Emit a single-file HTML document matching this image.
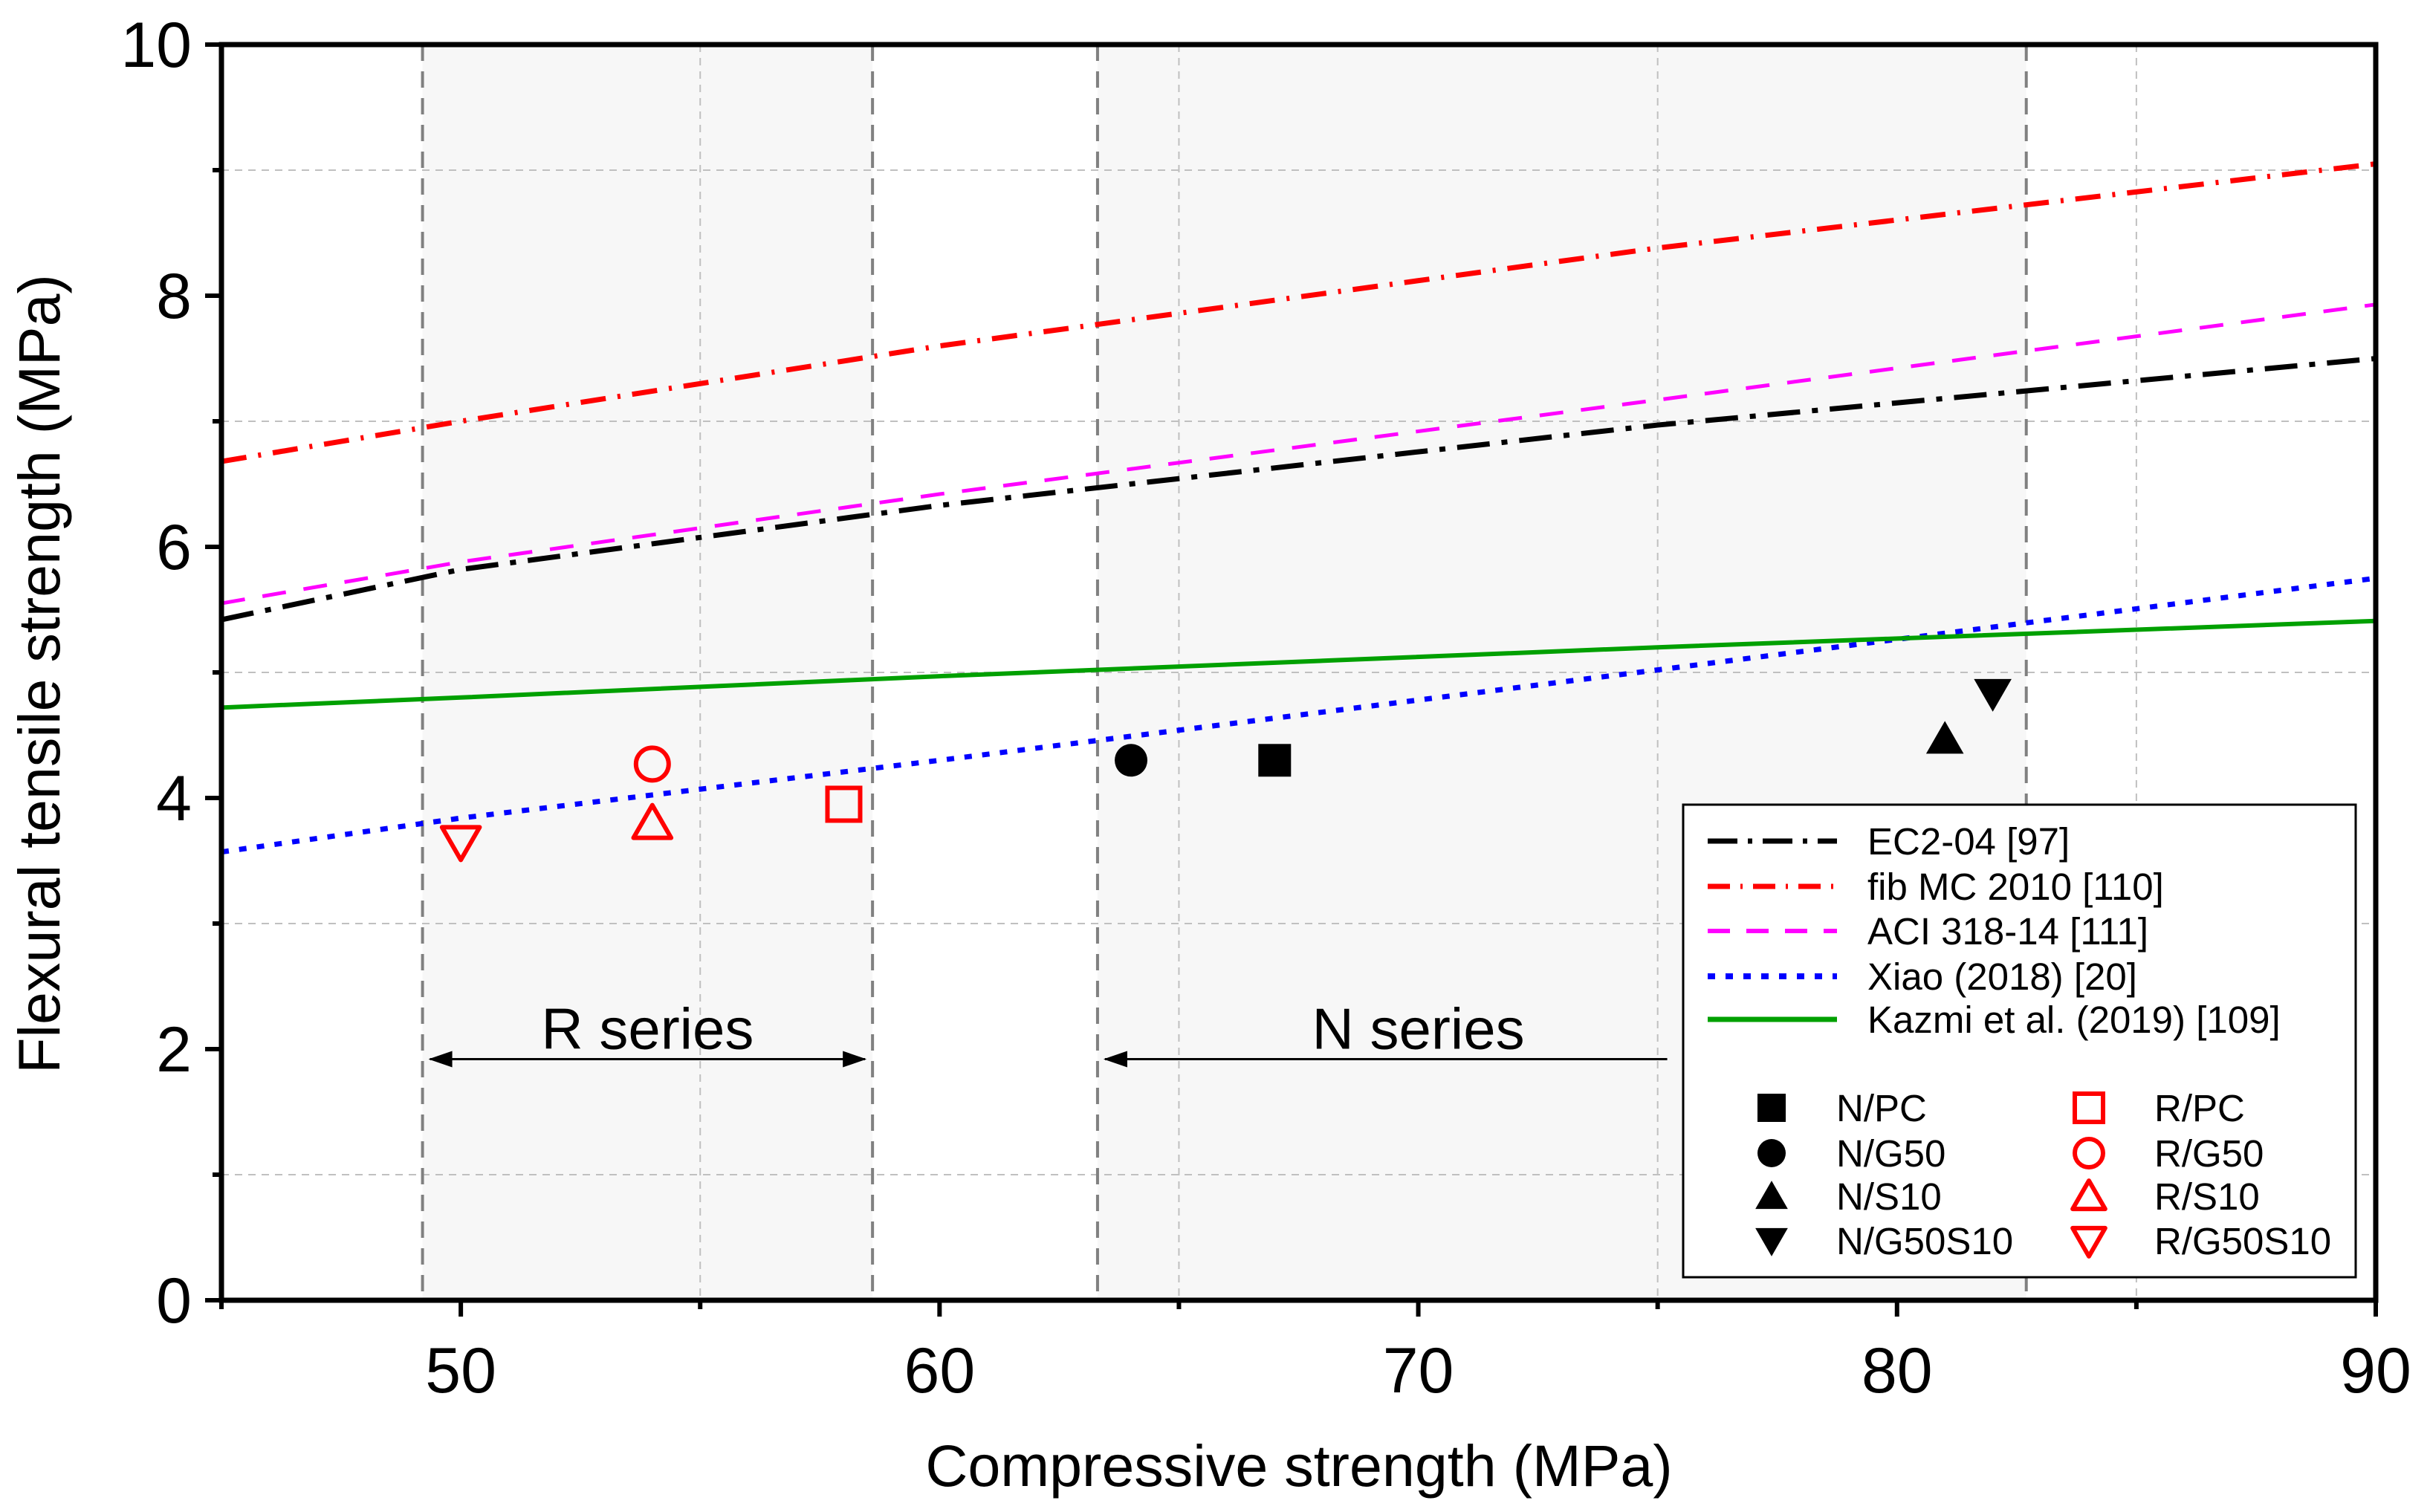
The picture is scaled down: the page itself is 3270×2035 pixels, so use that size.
<!DOCTYPE html>
<html><head><meta charset="utf-8"><style>
html,body{margin:0;padding:0;background:#fff}
svg{display:block;font-family:"Liberation Sans",Arial,sans-serif}
</style></head><body>
<svg id="chart" width="3270" height="2035" viewBox="0 0 3270 2035" xmlns="http://www.w3.org/2000/svg">
<g id="bg"></g><g id="grid"></g><g id="lines"></g><g id="pts"></g><g id="axes"></g><g id="legend"></g>
</svg>
<script>
const xTicks=[50,60,70,80,90];
const yTicks=[0,2,4,6,8,10];
const lineX=[45,50,60,75,90];
const ec2=[5.42,5.82,6.33,6.97,7.5];
const fib=[6.68,7.0,7.6,8.38,9.05];
const aci=[5.55,5.88,6.42,7.17,7.93];
const xiao=[3.57,3.84,4.3,5.02,5.75];
const kazmi=[4.72,4.8,4.97,5.2,5.41];
const ptNames=['N/PC','N/G50','N/S10','N/G50S10','R/PC','R/G50','R/S10','R/G50S10'];
const ptX=[67,64,81,82,58,54,54,50];
const ptY=[4.3,4.3,4.47,4.83,3.95,4.27,3.8,3.65];
const rRange=[49.2,58.6];
const nRange=[63.3,82.7];

const L=298,R=3197,T=60,B=1750;
const sx=v=>L+(v-45)/(90-45)*(R-L);
const sy=v=>B-(v-0)/(10-0)*(B-T);
const NS='http://www.w3.org/2000/svg';
function mk(tag,attrs,parent,text){const e=document.createElementNS(NS,tag);for(const k in attrs)e.setAttribute(k,attrs[k]);if(text!==undefined)e.textContent=text;parent.appendChild(e);return e;}
const bg=document.getElementById('bg'),grid=document.getElementById('grid'),lines=document.getElementById('lines'),pts=document.getElementById('pts'),axes=document.getElementById('axes'),leg=document.getElementById('legend');

[[rRange,'r-series-region'],[nRange,'n-series-region']].forEach(([rg,nm])=>{
 const r=mk('rect',{x:sx(rg[0]),y:T,width:sx(rg[1])-sx(rg[0]),height:B-T,fill:'#f7f7f7'},bg);
 
 
});
[55,65,75,85].forEach(v=>{const g=mk('line',{x1:sx(v),x2:sx(v),y1:T,y2:B,stroke:'#c0c0c0','stroke-width':2,'stroke-dasharray':'10 8'},grid);

});
[1,3,5,7,9].forEach(v=>{const g=mk('line',{x1:L,x2:R,y1:sy(v),y2:sy(v),stroke:'#c0c0c0','stroke-width':2,'stroke-dasharray':'10 8'},grid);

});
[rRange[0],rRange[1],nRange[0],nRange[1]].forEach(v=>{const g=mk('line',{x1:sx(v),x2:sx(v),y1:T,y2:B,stroke:'#808080','stroke-width':4,'stroke-dasharray':'22 14'},grid);

});

const series=[[ec2,'#000','44 16 8 16','ec2-line',7],[fib,'#ff0000','34 16 4 16','fib-line',7],[aci,'#ff00ff','32 24','aci-line',5],[xiao,'#0000ff','10 14','xiao-line',7],[kazmi,'#00a000','','kazmi-line',6]];
series.forEach(([ys,c,d,nm,w])=>{
 const p=lineX.map((x,i)=>sx(x)+','+sy(ys[i])).join(' ');
 const e=mk('polyline',{points:p,fill:'none',stroke:c,'stroke-width':w,'stroke-dasharray':d},lines);
 
 
});

function marker(kind,cx,cy,parent,s){
 const red=kind.startsWith('R');const fill=red?'none':'#000',stroke=red?'#ff0000':'#000';const sw=red?6:0;
 const t=kind.split('/')[1];const h=s/2;
 if(t==='PC') return mk('rect',{x:cx-h,y:cy-h,width:s,height:s,fill,stroke,'stroke-width':sw},parent);
 if(t==='G50') return mk('circle',{cx,cy,r:h,fill,stroke,'stroke-width':sw},parent);
 if(t==='S10') return mk('polygon',{points:`${cx},${cy-h*1.1} ${cx+h*1.15},${cy+h*0.9} ${cx-h*1.15},${cy+h*0.9}`,fill,stroke,'stroke-width':sw,'stroke-linejoin':'round'},parent);
 return mk('polygon',{points:`${cx},${cy+h*1.1} ${cx+h*1.15},${cy-h*0.9} ${cx-h*1.15},${cy-h*0.9}`,fill,stroke,'stroke-width':sw,'stroke-linejoin':'round'},parent);
}
ptNames.forEach((n,i)=>{const m=marker(n,sx(ptX[i]),sy(ptY[i]),pts,44);

});

function arrowHead(x,y,dir){return `${x},${y} ${x-dir*32},${y-11} ${x-dir*32},${y+11}`;}
const ay=sy(1.92);
let a=mk('line',{x1:sx(rRange[0])+10,x2:sx(rRange[1])-10,y1:ay,y2:ay,stroke:'#000','stroke-width':3},pts);


mk('polygon',{points:arrowHead(sx(rRange[0])+8,ay,-1),fill:'#000'},pts);
mk('polygon',{points:arrowHead(sx(rRange[1])-8,ay,1),fill:'#000'},pts);
a=mk('line',{x1:sx(nRange[0])+10,x2:sx(75.2),y1:ay,y2:ay,stroke:'#000','stroke-width':3},pts);


mk('polygon',{points:arrowHead(sx(nRange[0])+8,ay,-1),fill:'#000'},pts);
let t=mk('text',{x:(sx(rRange[0])+sx(rRange[1]))/2,y:ay-14,'font-size':78,'text-anchor':'middle'},pts,'R series');


t=mk('text',{x:sx(70),y:ay-14,'font-size':78,'text-anchor':'middle'},pts,'N series');



const fr=mk('rect',{x:L,y:T,width:R-L,height:B-T,fill:'none',stroke:'#000','stroke-width':7},axes);


xTicks.forEach(v=>{mk('line',{x1:sx(v),x2:sx(v),y1:B,y2:B+22,stroke:'#000','stroke-width':6},axes);
 const e=mk('text',{x:sx(v),y:B+124,'font-size':86,'text-anchor':'middle'},axes,String(v));
 
 });
[45,55,65,75,85].forEach(v=>mk('line',{x1:sx(v),x2:sx(v),y1:B,y2:B+12,stroke:'#000','stroke-width':6},axes));
yTicks.forEach(v=>{mk('line',{x1:L-22,x2:L,y1:sy(v),y2:sy(v),stroke:'#000','stroke-width':6},axes);
 const e=mk('text',{x:L-40,y:sy(v)+30,'font-size':86,'text-anchor':'end'},axes,String(v));
 
 });
[1,3,5,7,9].forEach(v=>mk('line',{x1:L-12,x2:L,y1:sy(v),y2:sy(v),stroke:'#000','stroke-width':6},axes));
t=mk('text',{x:1748,y:2000,'font-size':79,'text-anchor':'middle'},axes,'Compressive strength (MPa)');


t=mk('text',{x:0,y:0,'font-size':79,'text-anchor':'middle',transform:'translate(80,907) rotate(-90)'},axes,'Flexural tensile strength (MPa)');



const lb=mk('rect',{x:2265,y:1083,width:905,height:636,fill:'#fff',stroke:'#000','stroke-width':3},leg);


const legLines=[['EC2-04 [97]','#000','40 14 6 14',5],['fib MC 2010 [110]','#ff0000','30 14 3 14',5],['ACI 318-14 [111]','#ff00ff','30 22',4],['Xiao (2018) [20]','#0000ff','10 14',6],['Kazmi et al. (2019) [109]','#00a000','',5]];
const legY=[1132,1193,1253,1314,1372];
legLines.forEach(([lab,c,d,w],i)=>{
 const g=mk('g',{},leg);
 
 
 mk('line',{x1:2298,x2:2472,y1:legY[i],y2:legY[i],stroke:c,'stroke-width':w+2,'stroke-dasharray':d},g);
 mk('text',{x:2513,y:legY[i]+18,'font-size':51},g,lab);
});
const mRowY=[1491,1552,1610,1670];
ptNames.forEach((n,i)=>{
 const col=i<4?0:1,row=i%4;
 const g=mk('g',{},leg);
 
 
 marker(n,col?2811:2384,mRowY[row],g,38);
 mk('text',{x:col?2899:2471,y:mRowY[row]+18,'font-size':51},g,n);
});
</script>
</body></html>
